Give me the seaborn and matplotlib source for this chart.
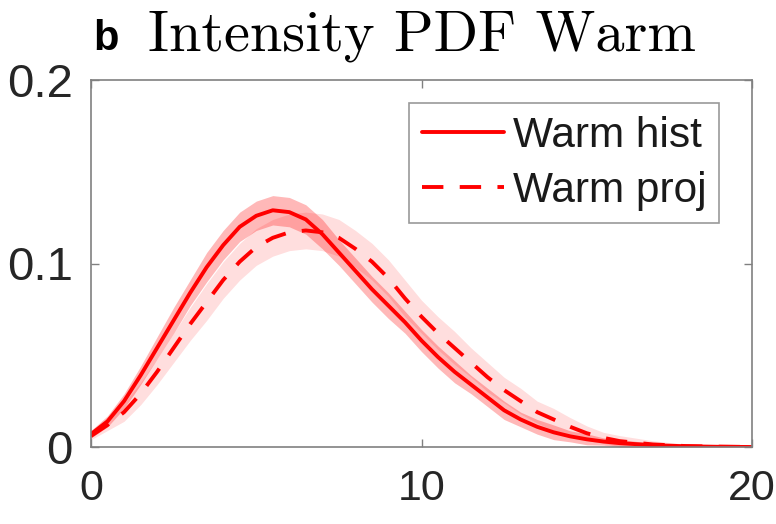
import numpy as np
import pandas as pd
import matplotlib
matplotlib.use("Agg")
import matplotlib.pyplot as plt
import seaborn as sns

# ---- data ----
x_vals = [0, 0.5, 1, 1.5, 2, 2.5, 3, 3.5, 4, 4.5, 5, 5.5, 6, 6.5, 7, 7.5, 8, 8.5,
          9, 9.5, 10, 10.5, 11, 11.5, 12, 12.5, 13, 13.5, 14, 14.5, 15, 15.5, 16,
          17, 18, 19, 20]
hist_pdf = [0.007, 0.014, 0.025, 0.039, 0.054, 0.069, 0.084, 0.098, 0.110, 0.120,
            0.126, 0.129, 0.128, 0.124, 0.116, 0.106, 0.096, 0.086, 0.077, 0.068,
            0.058, 0.049, 0.041, 0.034, 0.027, 0.020, 0.015, 0.011, 0.008, 0.0058,
            0.0042, 0.003, 0.0021, 0.001, 0.0004, 0.0001, 0.0]
proj_pdf = [0.006, 0.012, 0.019, 0.029, 0.041, 0.054, 0.067, 0.079, 0.091, 0.101,
            0.109, 0.114, 0.117, 0.118, 0.117, 0.114, 0.108, 0.101, 0.092, 0.081,
            0.071, 0.062, 0.054, 0.046, 0.038, 0.031, 0.025, 0.019, 0.015, 0.011,
            0.0075, 0.005, 0.0032, 0.0014, 0.0005, 0.0002, 0.0]
hist_err = [0.002, 0.003, 0.004, 0.005, 0.006, 0.007, 0.007, 0.008, 0.008, 0.008,
            0.008, 0.008, 0.008, 0.008, 0.008, 0.007, 0.007, 0.007, 0.007, 0.006,
            0.006, 0.006, 0.006, 0.005, 0.005, 0.005, 0.004, 0.004, 0.004, 0.003,
            0.003, 0.002, 0.002, 0.001, 0.0005, 0.0003, 0.0002]
proj_err = [0.002, 0.003, 0.005, 0.006, 0.007, 0.008, 0.009, 0.010, 0.010, 0.010,
            0.010, 0.010, 0.010, 0.010, 0.010, 0.010, 0.010, 0.010, 0.010, 0.010,
            0.009, 0.009, 0.009, 0.008, 0.008, 0.007, 0.007, 0.006, 0.006, 0.005,
            0.004, 0.003, 0.003, 0.002, 0.001, 0.0005, 0.0003]
labels = ["Warm hist", "Warm proj"]
x_ticks = [0, 10, 20]
y_ticks = [0, 0.1, 0.2]
y_tick_labels = ["0", "0.1", "0.2"]

sns.set_style("white")
plt.rcParams['font.family'] = ['Liberation Sans', 'DejaVu Sans']

df = pd.DataFrame({"x": x_vals, "hist": hist_pdf, "proj": proj_pdf,
                   "hist_err": hist_err, "proj_err": proj_err})

fig = plt.figure(figsize=(7.76, 5.24), dpi=100)
ax = fig.add_axes([91/776, 77/524, (752-91)/776, (447-80)/524])

red = "#ff0000"
ax.fill_between(df["x"], df["proj"] - df["proj_err"], df["proj"] + df["proj_err"],
                color=red, alpha=0.13, linewidth=0)
ax.fill_between(df["x"], df["hist"] - df["hist_err"], df["hist"] + df["hist_err"],
                color=red, alpha=0.28, linewidth=0)
sns.lineplot(data=df, x="x", y="hist", ax=ax, color=red, linewidth=2.8, label=labels[0])
sns.lineplot(data=df, x="x", y="proj", ax=ax, color=red, linewidth=2.8,
             label=labels[1])
ax.lines[-1].set_dashes((5.5, 4.2))

ax.set_xlim(0, 20)
ax.set_ylim(0, 0.2)
ax.set_xticks(x_ticks)
ax.set_yticks(y_ticks)
ax.set_yticklabels(y_tick_labels)
ax.set_xlabel("")
ax.set_ylabel("")
ax.tick_params(direction="in", length=6, width=1.0, color="#808080",
               labelsize=34, labelcolor="#262626", top=True, right=True,
               bottom=True, left=True)
ax.tick_params(axis="x", pad=16, labelsize=31)
ax.tick_params(axis="y", pad=13)
for s in ax.spines.values():
    s.set_color("#808080")
    s.set_linewidth(1.2)

leg = ax.legend(loc="upper right", bbox_to_anchor=(0.950, 0.937), fontsize=30.5,
                frameon=True, handlelength=1.95, borderpad=0.3, labelspacing=0.35,
                handletextpad=0.2, borderaxespad=0.0, fancybox=False,
                edgecolor="#808080")
leg.get_frame().set_linewidth(1.2)
for t in leg.get_texts():
    t.set_color("#1a1a1a")

ax.set_title("Intensity PDF Warm", fontfamily="cmr10", fontsize=42, pad=21, color="#000000")
fig.text(93/776, 1 - 50/524, "b", fontsize=30, fontweight="bold", color="#000000",
         ha="left", va="baseline")

fig.savefig("out.png", dpi=100)
